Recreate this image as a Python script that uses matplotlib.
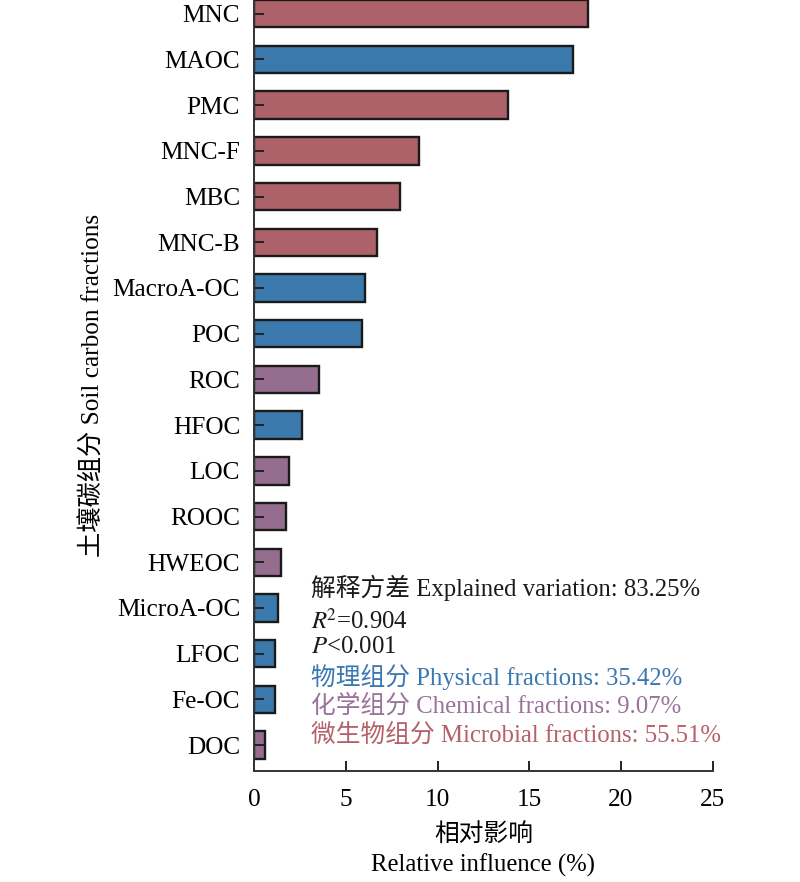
import matplotlib
matplotlib.use("Agg")
import matplotlib.pyplot as plt

# Data (top to bottom as in the reference)
fractions = ["MNC", "MAOC", "PMC", "MNC-F", "MBC", "MNC-B", "MacroA-OC", "POC",
             "ROC", "HFOC", "LOC", "ROOC", "HWEOC", "MicroA-OC", "LFOC", "Fe-OC", "DOC"]
influence = [18.18, 17.40, 13.86, 9.00, 7.93, 6.70, 6.04, 5.91,
             3.52, 2.63, 1.90, 1.76, 1.47, 1.32, 1.16, 1.14, 0.61]
groups = ["mic", "phy", "mic", "mic", "mic", "mic", "phy", "phy",
          "che", "phy", "che", "che", "che", "phy", "phy", "phy", "che"]

bar_colors = {"phy": "#3b78ab", "che": "#946d8f", "mic": "#ad6168"}
text_colors = {"phy": "#3a78b0", "che": "#9a729a", "mic": "#b5606b"}

fonts = ["Liberation Serif", "Noto Sans CJK SC"]
plt.rcParams["font.family"] = fonts
plt.rcParams["mathtext.fontset"] = "stix"

fig = plt.figure(figsize=(8, 8.82), dpi=100)
ax = fig.add_axes([0.3175, 0.1262, 0.5735, 0.8738])

n = len(fractions)
ypos = [n - 1 - i for i in range(n)]
ax.barh(ypos, influence, height=0.6,
        color=[bar_colors[g] for g in groups],
        edgecolor="#1a1a1a", linewidth=1.7)

ax.set_xlim(0, 25)
ax.set_ylim(-0.56, n - 0.7)
ax.set_xticks([0, 5, 10, 15, 20, 25])
ax.set_yticks(ypos)
ax.set_yticklabels(fractions)
ax.tick_params(axis="both", direction="in", length=7, width=1.4,
               labelsize=18.2, color="#222222")
ax.tick_params(axis="y", pad=10)
ax.tick_params(axis="x", pad=13)

for side in ["top", "right"]:
    ax.spines[side].set_visible(False)
for side in ["left", "bottom"]:
    ax.spines[side].set_linewidth(1.4)
    ax.spines[side].set_color("#333333")

ax.set_xlabel("相对影响\nRelative influence (%)", fontsize=17.8, linespacing=1.4,
              labelpad=9)
ax.set_ylabel("土壤碳组分 Soil carbon fractions", fontsize=18.2, labelpad=6)

# Annotation block
tx = 0.389
fs = 17.8
fig.text(tx, 1 - 588 / 882, "解释方差 Explained variation: 83.25%",
         fontsize=fs, va="center", color="#1a1a1a")
fig.text(tx, 1 - 621 / 882, "$R$$^{2}$=0.904", fontsize=fs, va="center",
         color="#1a1a1a")
fig.text(tx, 1 - 647 / 882, "$P$<0.001", fontsize=fs, va="center",
         color="#1a1a1a")
fig.text(tx, 1 - 677 / 882, "物理组分 Physical fractions: 35.42%",
         fontsize=fs, va="center", color=text_colors["phy"])
fig.text(tx, 1 - 706 / 882, "化学组分 Chemical fractions: 9.07%",
         fontsize=fs, va="center", color=text_colors["che"])
fig.text(tx, 1 - 735 / 882, "微生物组分 Microbial fractions: 55.51%",
         fontsize=fs, va="center", color=text_colors["mic"])

fig.savefig("out.png", dpi=100)
